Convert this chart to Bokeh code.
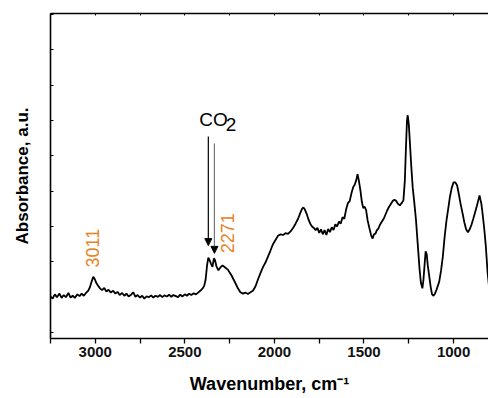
import math
from bokeh.plotting import figure
from bokeh.models import (Range1d, LinearAxis, FixedTicker, Label, Arrow, NormalHead,
                          ColumnDataSource)
from bokeh.embed import file_html
from bokeh.resources import INLINE

# ---------------- data ----------------
wavenumber = [3250, 3238, 3226, 3214, 3200, 3188, 3176, 3164, 3150, 3138, 3126, 3114,
              3100, 3088, 3076, 3064, 3052, 3040, 3030, 3020, 3011, 3002, 2994, 2984,
              2974, 2962, 2950, 2938, 2926, 2914, 2900, 2888, 2876, 2864, 2850, 2838,
              2826, 2814, 2800, 2788, 2776, 2764, 2750, 2738, 2726, 2714, 2700, 2688,
              2676, 2664, 2650, 2638, 2626, 2614, 2600, 2588, 2576, 2564, 2550, 2538,
              2526, 2514, 2500, 2488, 2476, 2464, 2450, 2438, 2426, 2414, 2402, 2392,
              2384, 2376, 2369, 2362, 2355, 2346, 2338, 2332, 2324, 2313, 2300, 2290,
              2280, 2270, 2260, 2250, 2240, 2228, 2216, 2204, 2190, 2176, 2162, 2148,
              2134, 2120, 2106, 2092, 2078, 2064, 2050, 2036, 2022, 2008, 1994, 1980,
              1966, 1952, 1938, 1924, 1910, 1896, 1882, 1868, 1856, 1846, 1838, 1830,
              1820, 1810, 1800, 1790, 1780, 1770, 1760, 1750, 1740, 1730, 1720, 1710,
              1700, 1690, 1680, 1670, 1660, 1650, 1640, 1630, 1620, 1610, 1600, 1590,
              1580, 1570, 1560, 1552, 1544, 1536, 1528, 1520, 1512, 1504, 1496, 1488,
              1480, 1470, 1460, 1452, 1444, 1436, 1428, 1420, 1410, 1400, 1390, 1380,
              1370, 1360, 1350, 1340, 1330, 1320, 1310, 1300, 1290, 1280, 1272, 1266,
              1260, 1256, 1250, 1244, 1236, 1228, 1220, 1210, 1200, 1190, 1182, 1174,
              1168, 1162, 1156, 1150, 1144, 1136, 1128, 1120, 1112, 1104, 1096, 1088,
              1080, 1070, 1060, 1050, 1040, 1030, 1020, 1010, 1000, 990, 980, 970,
              960, 950, 940, 930, 920, 910, 900, 890, 880, 870, 860, 855,
              850, 845, 840, 830, 820, 810, 800]
absorbance = [0.102, 0.096, 0.108, 0.100, 0.110, 0.098, 0.106, 0.100, 0.112, 0.099, 0.104, 0.098,
              0.108, 0.103, 0.110, 0.104, 0.112, 0.118, 0.128, 0.145, 0.158, 0.150, 0.140, 0.132,
              0.125, 0.120, 0.126, 0.116, 0.121, 0.113, 0.118, 0.110, 0.115, 0.106, 0.112, 0.104,
              0.110, 0.102, 0.107, 0.114, 0.101, 0.106, 0.099, 0.104, 0.096, 0.102, 0.100, 0.105,
              0.099, 0.104, 0.101, 0.106, 0.100, 0.105, 0.102, 0.107, 0.101, 0.106, 0.103, 0.100,
              0.107, 0.102, 0.108, 0.104, 0.110, 0.106, 0.111, 0.108, 0.113, 0.118, 0.124, 0.132,
              0.150, 0.190, 0.212, 0.205, 0.196, 0.186, 0.210, 0.205, 0.188, 0.176, 0.185, 0.190,
              0.186, 0.182, 0.178, 0.170, 0.162, 0.150, 0.138, 0.125, 0.114, 0.110, 0.113, 0.109,
              0.114, 0.118, 0.130, 0.150, 0.168, 0.185, 0.198, 0.215, 0.232, 0.250, 0.262, 0.274,
              0.278, 0.276, 0.281, 0.279, 0.286, 0.296, 0.308, 0.322, 0.338, 0.350, 0.354, 0.348,
              0.336, 0.320, 0.308, 0.300, 0.296, 0.290, 0.296, 0.282, 0.292, 0.278, 0.290, 0.276,
              0.293, 0.284, 0.298, 0.290, 0.306, 0.300, 0.314, 0.308, 0.326, 0.322, 0.348, 0.366,
              0.372, 0.394, 0.412, 0.418, 0.430, 0.448, 0.428, 0.402, 0.370, 0.352, 0.356, 0.346,
              0.318, 0.296, 0.275, 0.266, 0.278, 0.280, 0.290, 0.294, 0.306, 0.314, 0.322, 0.334,
              0.346, 0.356, 0.364, 0.372, 0.376, 0.372, 0.364, 0.360, 0.366, 0.374, 0.430, 0.520,
              0.600, 0.615, 0.590, 0.540, 0.470, 0.410, 0.372, 0.320, 0.250, 0.180, 0.140, 0.125,
              0.150, 0.190, 0.230, 0.222, 0.190, 0.160, 0.130, 0.108, 0.104, 0.110, 0.120, 0.132,
              0.144, 0.175, 0.215, 0.270, 0.315, 0.350, 0.385, 0.410, 0.425, 0.425, 0.416, 0.390,
              0.362, 0.338, 0.312, 0.292, 0.284, 0.292, 0.305, 0.322, 0.340, 0.358, 0.378, 0.388,
              0.376, 0.365, 0.345, 0.300, 0.245, 0.170, 0.120]

x_major_ticks = [1000, 1500, 2000, 2500, 3000]
x_minor_ticks = [750, 1250, 1750, 2250, 2750, 3250]
x_tick_labels = {1000: "1000", 1500: "1500", 2000: "2000", 2500: "2500", 3000: "3000"}
y_ticks = [0.0, 0.1, 0.2, 0.3, 0.4, 0.5, 0.6, 0.7, 0.8, 0.9]
x_title = "Wavenumber, cm\u207b\u00b9"
y_title = "Absorbance, a.u."

# annotations
peak_labels = ["3011", "2271"]
peak_label_x = [3018, 2260]
peak_label_y = [0.184, 0.224]
arrow_x = [2369, 2335]
arrow_y_start = [0.555, 0.535]
arrow_y_end = [0.246, 0.224]
arrow_colors = ["#000000", "#777777"]

ORANGE = "#E8821E"
FONT = "Liberation Sans"

p = figure(width=488, height=398, output_backend="svg", toolbar_location=None,
           x_range=Range1d(3250, 805), y_range=Range1d(-0.017, 0.903),
           min_border_left=50, min_border_right=0, min_border_top=13, min_border_bottom=60,
           x_axis_location=None, y_axis_location=None)
p.outline_line_color = None
p.grid.visible = False
p.background_fill_color = "white"
p.border_fill_color = "white"

src = ColumnDataSource(dict(x=wavenumber, y=absorbance))
p.line("x", "y", source=src, line_color="black", line_width=1.8)

# bottom axis
xb = LinearAxis(ticker=FixedTicker(ticks=x_major_ticks, minor_ticks=x_minor_ticks))
xb.major_label_overrides = x_tick_labels
xb.major_tick_in = 0
xb.major_tick_out = 5
xb.minor_tick_in = 0
xb.minor_tick_out = 5
xb.axis_line_width = 1.6
xb.major_tick_line_width = 1.3
xb.minor_tick_line_width = 1.3
xb.major_label_text_font = FONT
xb.major_label_text_font_size = "15px"
xb.major_label_text_font_style = "bold"
xb.major_label_text_color = "#111111"
xb.major_label_standoff = 3
xb.axis_label = x_title
xb.axis_label_text_font = FONT
xb.axis_label_text_font_size = "18px"
xb.axis_label_text_font_style = "bold"
xb.axis_label_text_color = "black"
xb.axis_label_standoff = 14
p.add_layout(xb, "below")

# top axis (frame line with small ticks)
xt = LinearAxis(ticker=FixedTicker(ticks=x_major_ticks, minor_ticks=x_minor_ticks))
xt.major_tick_in = 2
xt.major_tick_out = 0
xt.minor_tick_in = 2
xt.minor_tick_out = 0
xt.axis_line_width = 1.6
xt.major_label_text_font_size = "0px"
xt.major_label_text_color = None
xt.major_label_standoff = 0
p.add_layout(xt, "above")

# left axis
yl = LinearAxis(ticker=FixedTicker(ticks=y_ticks, minor_ticks=[]))
yl.major_tick_in = 3
yl.major_tick_out = 0
yl.axis_line_width = 1.6
yl.major_tick_line_width = 1.2
yl.major_label_text_font_size = "0px"
yl.major_label_text_color = None
yl.major_label_standoff = 0
yl.axis_label = y_title
yl.axis_label_text_font = FONT
yl.axis_label_text_font_size = "17px"
yl.axis_label_text_font_style = "bold"
yl.axis_label_text_color = "black"
yl.axis_label_standoff = 19
p.add_layout(yl, "left")

# peak labels
for t, xx, yy in zip(peak_labels, peak_label_x, peak_label_y):
    p.add_layout(Label(x=xx, y=yy, text=t, angle=math.pi / 2, text_align="left",
                       text_baseline="middle", text_font=FONT, text_font_size="18px",
                       text_color=ORANGE))

# CO2 label
p.add_layout(Label(x=2419, y=0.603, text="CO", text_align="left", text_baseline="alphabetic",
                   text_font=FONT, text_font_size="19px", text_color="black"))
p.add_layout(Label(x=2272, y=0.589, text="2", text_align="left", text_baseline="alphabetic",
                   text_font=FONT, text_font_size="19px", text_color="black"))

# arrows
for xx, y0, y1, c in zip(arrow_x, arrow_y_start, arrow_y_end, arrow_colors):
    p.add_layout(Arrow(end=NormalHead(size=7, fill_color="black", line_color="black", line_width=1),
                       x_start=xx, y_start=y0, x_end=xx, y_end=y1,
                       line_color=c, line_width=1.2))

open("out.html", "w").write(file_html(p, INLINE))
